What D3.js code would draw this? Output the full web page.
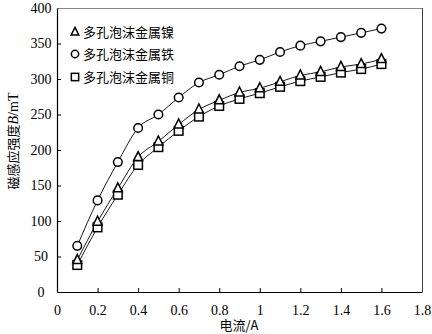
<!DOCTYPE html>
<html><head><meta charset="utf-8">
<script src="https://cdn.jsdelivr.net/npm/d3@7"></script>
<style>body{margin:0;background:#fff}</style>
</head><body>
<script>
const current = [0.1,0.2,0.3,0.4,0.5,0.6,0.7,0.8,0.9,1.0,1.1,1.2,1.3,1.4,1.5,1.6];
const nickel = [45,99,146,190,212,236,257,270,281,287,296,305,310,317,321,328];
const iron   = [65,129,183,231,250,274,295,306,318,327,338,347,353,359,365,371];
const copper = [38,91,137,179,204,227,247,262,272,280,289,297,303,309,314,321];
const seriesNames = ["多孔泡沫金属镍","多孔泡沫金属铁","多孔泡沫金属铜"];
const xTicks = [0,0.2,0.4,0.6,0.8,1,1.2,1.4,1.6,1.8];
const yTicks = [0,50,100,150,200,250,300,350,400];

const W=432,H=334, L=57,R=422,T=8,B=292;
const svg=d3.select("body").append("svg").attr("width",W).attr("height",H);
const x=d3.scaleLinear().domain([0,1.8]).range([L,R]);
const y=d3.scaleLinear().domain([0,400]).range([B,T]);
const serif="'Liberation Serif','Times New Roman',serif";
const cjk="'Noto Sans CJK SC',sans-serif";

// frame
svg.append("line").attr("x1",L).attr("x2",R).attr("y1",T+0.5).attr("y2",T+0.5).attr("stroke","#888");
svg.append("line").attr("x1",R+0.5).attr("x2",R+0.5).attr("y1",T).attr("y2",B).attr("stroke","#444");

const xa=svg.append("g").attr("transform",`translate(0,${B})`)
 .call(d3.axisBottom(x).tickValues(xTicks).tickSizeInner(-4).tickSizeOuter(0).tickPadding(10).tickFormat(d=>d3.format("")(d)));
const ya=svg.append("g").attr("transform",`translate(${L},0)`)
 .call(d3.axisLeft(y).tickValues(yTicks).tickSizeInner(-4).tickSizeOuter(0).tickPadding(6));
[xa,ya].forEach(g=>{g.selectAll("path").attr("stroke","#000").attr("stroke-width",1.2);
 g.selectAll("line").attr("stroke","#000");
 g.selectAll("text").attr("font-family",serif).attr("font-size",14).attr("fill","#000");});
xa.selectAll("text").attr("dy","0.9em");
ya.selectAll("text").attr("text-anchor","middle").attr("x",-16);
xa.selectAll(".tick").filter(d=>d===0||d===1.8).select("line").remove();
ya.selectAll(".tick").filter(d=>d===0||d===400).select("line").remove();

// titles
svg.append("text").attr("x",239).attr("y",330).attr("text-anchor","middle")
 .attr("font-size",13).attr("font-family",cjk).text("电流/A");
const yt=svg.append("text").attr("transform","translate(18,141) rotate(-90)")
 .attr("text-anchor","middle").attr("font-size",13).attr("font-family",cjk);
yt.append("tspan").text("磁感应强度");
yt.append("tspan").attr("font-family",serif).attr("font-style","italic").attr("font-size",14).text("B");
yt.append("tspan").attr("font-family",serif).attr("font-size",14).text("/mT");

const data=[nickel,iron,copper];
const line=d3.line().x((d,i)=>x(current[i])).y(d=>y(d)).curve(d3.curveMonotoneX);
data.forEach(s=>svg.append("path").attr("d",line(s)).attr("fill","none").attr("stroke","#000").attr("stroke-width",0.9));

function marker(g,type,cx,cy,s){
  s=s||1;
  if(type===0) g.append("path").attr("d",`M${cx},${cy-5.5*s}L${cx+4.5*s},${cy+3.5*s}L${cx-4.5*s},${cy+3.5*s}Z`);
  else if(type===1) g.append("circle").attr("cx",cx).attr("cy",cy).attr("r",4.3*s);
  else g.append("rect").attr("x",cx-4.3*s).attr("y",cy-4.3*s).attr("width",8.6*s).attr("height",8.6*s);
}
const mg=svg.append("g").attr("fill","#fff").attr("stroke","#000").attr("stroke-width",1.5);
[2,1,0].forEach(k=>data[k].forEach((v,i)=>marker(mg,k,x(current[i]),y(v))));

// legend
const lg=svg.append("g");
const ly=[32,54,77];
seriesNames.forEach((n,k)=>{
  const g=lg.append("g").attr("fill","#fff").attr("stroke","#000").attr("stroke-width",1.5);
  marker(g,k,75,ly[k],0.85);
  lg.append("text").attr("x",83).attr("y",ly[k]+5).attr("font-size",13).attr("font-family",cjk).text(n);
});
</script>
</body></html>
